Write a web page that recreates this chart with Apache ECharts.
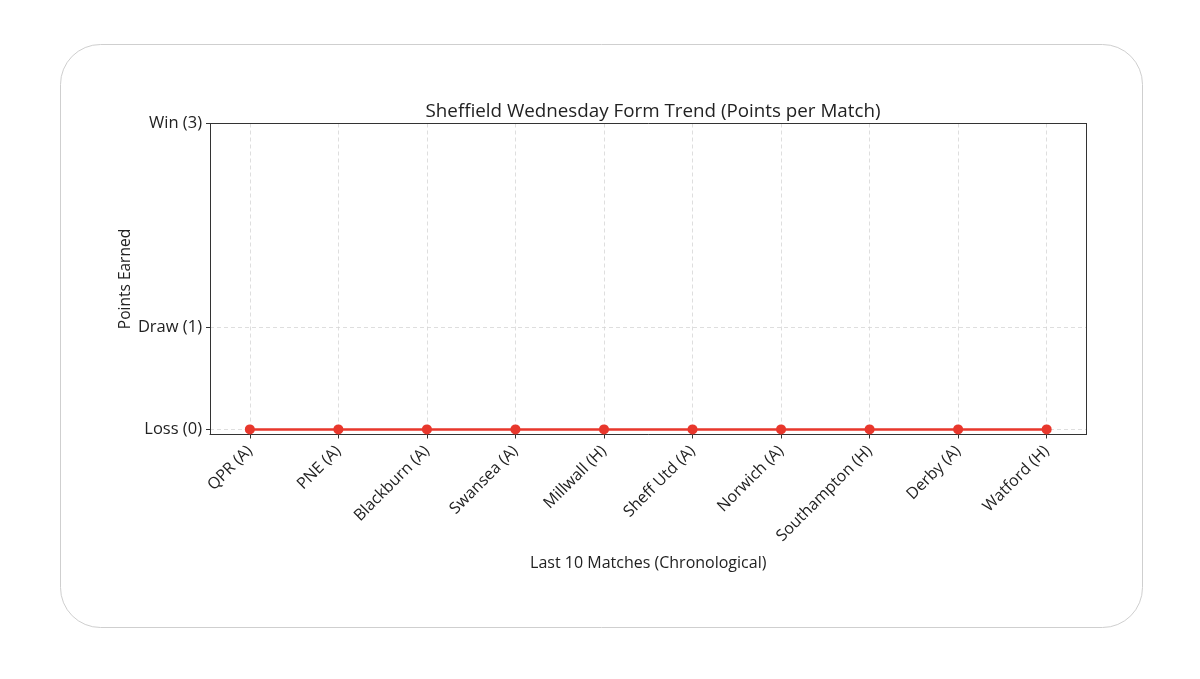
<!DOCTYPE html>
<html>
<head>
<meta charset="utf-8">
<script src="https://cdn.jsdelivr.net/npm/echarts@6/dist/echarts.min.js"></script>
<style>
  html, body { margin: 0; padding: 0; background: #fff; }
  #chart { width: 1200px; height: 679px; }
</style>
</head>
<body>
<div id="chart"></div>
<script>
// last 10 matches, oldest first
var matches = ['QPR (A)', 'PNE (A)', 'Blackburn (A)', 'Swansea (A)', 'Millwall (H)',
  'Sheff Utd (A)', 'Norwich (A)', 'Southampton (H)', 'Derby (A)', 'Watford (H)'];
var points = [0, 0, 0, 0, 0, 0, 0, 0, 0, 0];
var yTicks = [0, 1, 3];
var yTickLabels = ['Loss (0)', 'Draw (1)', 'Win (3)'];

var font = '"Open Sans", "Noto Sans", sans-serif';
var xTicks = matches.map(function (m, i) { return i; });
var seriesData = points.map(function (p, i) { return [i, p]; });

var chart = echarts.init(document.getElementById('chart'));

var dashed = { show: true, lineStyle: { color: '#d6d6d6', width: 0.8, type: [4, 3] } };
var frameLine = { show: true, onZero: false, lineStyle: { color: '#333', width: 1 } };

chart.setOption({
  animation: false,
  backgroundColor: '#fff',
  textStyle: { fontFamily: font },
  graphic: [{
    type: 'rect',
    z: -10,
    shape: { x: 60.5, y: 44.5, width: 1082, height: 583, r: 40 },
    style: { fill: '#fff', stroke: '#cfcfcf', lineWidth: 1 }
  }],
  title: {
    text: 'Sheffield Wednesday Form Trend (Points per Match)',
    left: 648, top: 97, textAlign: 'center',
    textStyle: { fontSize: 18.8, fontWeight: 'normal', color: '#222', fontFamily: font }
  },
  grid: { left: 210, top: 123.5, right: 113.5, bottom: 244.5 },
  xAxis: [{
    type: 'value',
    min: -0.45, max: 9.45,
    name: 'Last 10 Matches (Chronological)',
    nameLocation: 'middle', nameGap: 121,
    nameTextStyle: { fontSize: 16, color: '#222', fontFamily: font },
    axisLine: frameLine,
    axisTick: { show: true, length: 4, customValues: xTicks, lineStyle: { color: '#333' } },
    axisLabel: {
      customValues: xTicks, rotate: 45, fontSize: 16, color: '#222', margin: 14,
      formatter: function (v) { return matches[Math.round(v)]; }
    },
    splitLine: dashed
  }, {
    // top edge of the frame
    type: 'value', position: 'top', min: -0.45, max: 9.45, z: 10,
    axisLine: frameLine, axisTick: { show: false }, axisLabel: { show: false },
    splitLine: { show: false }
  }],
  yAxis: [{
    type: 'value',
    min: -0.05, max: 3,
    name: 'Points Earned',
    nameLocation: 'middle', nameGap: 76, nameMoveOverlap: false,
    nameTextStyle: { fontSize: 15.5, color: '#222', fontFamily: font },
    axisLine: frameLine,
    axisTick: { show: true, length: 4, customValues: yTicks, lineStyle: { color: '#333' } },
    axisLabel: {
      customValues: yTicks, fontSize: 16.5, color: '#222', margin: 8,
      formatter: function (v) { return yTickLabels[yTicks.indexOf(Math.round(v))]; }
    },
    splitLine: dashed
  }, {
    // right edge of the frame
    type: 'value', position: 'right', min: -0.05, max: 3, z: 10,
    axisLine: frameLine, axisTick: { show: false }, axisLabel: { show: false },
    splitLine: { show: false }
  }],
  series: [{
    type: 'line',
    data: seriesData,
    symbol: 'circle',
    symbolSize: 10,
    itemStyle: { color: '#e8372c' },
    lineStyle: { color: '#e8372c', width: 2.5 },
    clip: false
  }]
});
</script>
</body>
</html>
